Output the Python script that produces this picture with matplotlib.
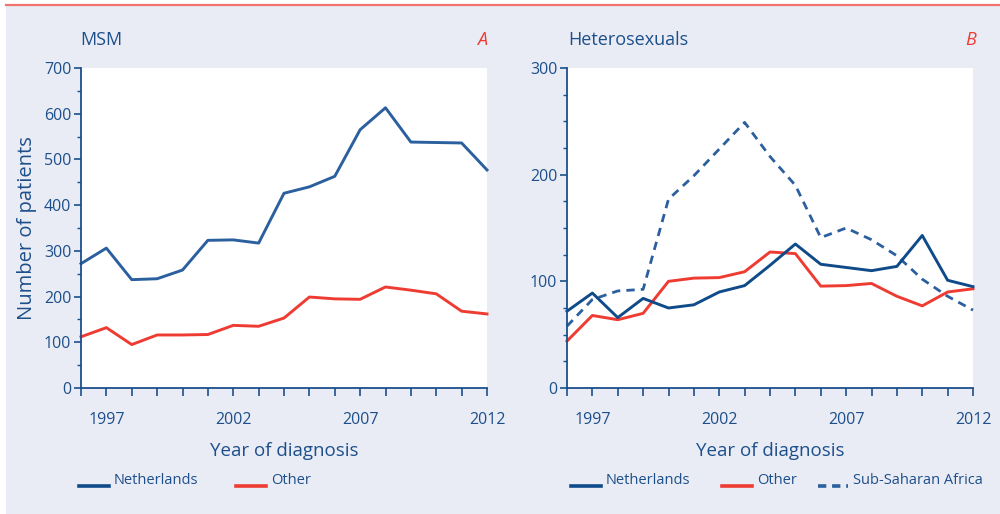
import matplotlib
matplotlib.use("Agg")
import matplotlib.pyplot as plt
from matplotlib.lines import Line2D
from matplotlib.patches import Rectangle
from matplotlib.ticker import MultipleLocator, FixedLocator

plt.rcParams['font.family'] = ['Open Sans', 'DejaVu Sans']

years = list(range(1996, 2013))
label_years = [1997, 2002, 2007, 2012]

msm_netherlands = [272, 306, 237, 239, 258, 323, 324, 317, 426, 440, 463, 565, 613, 538, 537, 536, 477]
msm_other = [112, 132, 95, 116, 116, 117, 137, 135, 153, 199, 195, 194, 221, 214, 206, 168, 162]

het_netherlands = [72, 89, 66, 84, 75, 78, 90, 96, 115, 135, 116, 113, 110, 114, 143, 101, 95]
het_other = [44, 68, 64, 70, 100, 103, 103.5, 109, 127.5, 126, 95.5, 96, 98, 86, 77, 90, 93]
het_ssa = [58, 83, 91, 92.5, 177, 199, 224, 249, 217, 190, 141, 150, 139, 124, 102, 86, 73]

NAVY = '#1b4f8c'
BLUE_A = '#2b5f9e'
BLUE_B = '#0f4a89'
RED = '#ef3c33'
BG = '#e9ecf5'
TXT = '#1d4f8a'

W, H = 1000, 514
fig = plt.figure(figsize=(10, 5.14), dpi=100, facecolor='white')
fig.patches.append(Rectangle((6 / W, 0), 1 - 6 / W, 1 - 6 / H, transform=fig.transFigure,
                             facecolor=BG, edgecolor='none', zorder=-10))
fig.lines.append(Line2D([6 / W, 1], [1 - 5 / H, 1 - 5 / H], transform=fig.transFigure,
                        color='#f07370', lw=1.6, zorder=1))


def make_ax(left, right, ymax, minor):
    ax = fig.add_axes([left / W, 1 - 388 / H, (right - left) / W, 320 / H])
    ax.set_zorder(5)
    ax.set_facecolor('white')
    for s in ['top', 'right']:
        ax.spines[s].set_visible(False)
    for s in ['left', 'bottom']:
        ax.spines[s].set_color(NAVY)
        ax.spines[s].set_linewidth(1.3)
    ax.set_xlim(1996, 2012)
    ax.set_ylim(0, ymax)
    ax.xaxis.set_major_locator(FixedLocator(years))
    ax.set_xticklabels([str(y) if y in label_years else '' for y in years])
    ax.yaxis.set_major_locator(MultipleLocator(100))
    ax.yaxis.set_minor_locator(MultipleLocator(minor))
    ax.tick_params(axis='x', which='major', direction='out', length=6, width=1.2,
                   color=NAVY, labelcolor=TXT, labelsize=11.5, pad=11)
    ax.tick_params(axis='y', which='major', direction='out', length=5, width=1.2,
                   color=NAVY, labelcolor=TXT, labelsize=11.5, pad=2)
    ax.tick_params(axis='y', which='minor', direction='out', length=3, width=1.0, color=NAVY)
    ax.set_xlabel('Year of diagnosis', color=TXT, fontsize=13.5, labelpad=10)
    return ax


axA = make_ax(81, 487, 700, 50)
axA.plot(years, msm_netherlands, color=BLUE_A, lw=2.1, clip_on=False)
axA.plot(years, msm_other, color=RED, lw=2.1, clip_on=False)
axA.set_ylabel('Number of patients', color=TXT, fontsize=14.5, labelpad=5)

axB = make_ax(567, 973, 300, 25)
axB.plot(years, het_ssa, color=BLUE_A, lw=2.0, ls=(0, (3, 2.2)), clip_on=False)
axB.plot(years, het_other, color=RED, lw=2.1, clip_on=False)
axB.plot(years, het_netherlands, color=BLUE_B, lw=2.1, clip_on=False)

# panel titles
fig.text(80 / W, 1 - 40 / H, 'MSM', color=TXT, fontsize=13, va='center', ha='left')
fig.text(487 / W, 1 - 40 / H, 'A', color=RED, fontsize=13, style='italic', va='center', ha='right')
fig.text(568 / W, 1 - 40 / H, 'Heterosexuals', color=TXT, fontsize=13, va='center', ha='left')
fig.text(976 / W, 1 - 40 / H, 'B', color=RED, fontsize=13, style='italic', va='center', ha='right')


def legend_item(x0, label, color, ls='-'):
    y = 1 - 486 / H
    fig.lines.append(Line2D([x0 / W, (x0 + 30) / W], [y, y], transform=fig.transFigure,
                            color=color, lw=2.6, ls=ls))
    fig.text((x0 + 35) / W, 1 - 480 / H, label, color=TXT, fontsize=10.5,
             va='center', ha='left')


legend_item(79, 'Netherlands', BLUE_B)
legend_item(236, 'Other', RED)
legend_item(571, 'Netherlands', BLUE_B)
legend_item(722, 'Other', RED)
legend_item(818, 'Sub-Saharan Africa', BLUE_A, ls=(0, (2.3, 1.6)))

fig.savefig('out.png', dpi=100, facecolor=fig.get_facecolor())
